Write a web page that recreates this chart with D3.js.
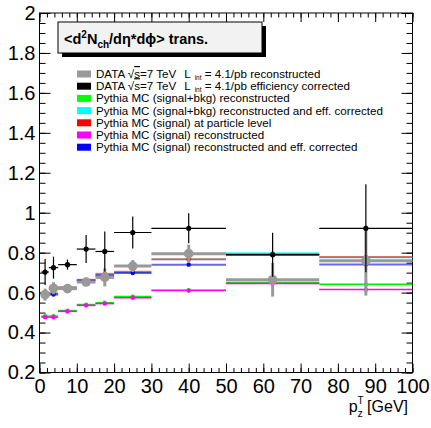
<!DOCTYPE html>
<html>
<head>
<meta charset="utf-8">
<script src="https://cdn.jsdelivr.net/npm/d3@7"></script>
<style>
  html, body { margin: 0; padding: 0; background: #fff; }
  svg { display: block; font-family: "Liberation Sans", Arial, Helvetica, sans-serif; }
</style>
</head>
<body>
<svg id="chart" width="431" height="428"></svg>
<script>
// pT bins (GeV)
const binLow    = [0.5, 2.5, 5, 10, 15, 20, 30, 50, 75];
const binHigh   = [2.5, 5, 10, 15, 20, 30, 50, 75, 100];
const binCenter = [1.5, 3.75, 7.5, 12.5, 17.5, 25, 40, 62.5, 87.5];

// DATA, efficiency corrected
const dataCorrected    = [0.703, 0.725, 0.740, 0.818, 0.806, 0.901, 0.922, 0.790, 0.922];
const dataCorrectedErr = [0.065, 0.055, 0.025, 0.070, 0.100, 0.080, 0.075, 0.110, 0.220];
// DATA, reconstructed
const dataReco    = [0.590, 0.622, 0.620, 0.653, 0.676, 0.733, 0.795, 0.665, 0.760];
const dataRecoErr = [0.030, 0.030, 0.015, 0.020, 0.045, 0.030, 0.045, 0.085, 0.175];
// Pythia MC
const mcSigBkgReco = [0.482, 0.482, 0.510, 0.540, 0.549, 0.580, 0.612, 0.651, 0.641];
const mcSigBkgCorr = [0.592, 0.598, 0.625, 0.663, 0.690, 0.702, 0.766, 0.797, 0.776];
const mcParticle   = [0.590, 0.595, 0.627, 0.664, 0.694, 0.705, 0.767, 0.790, 0.778];
const mcSigReco    = [0.477, 0.477, 0.506, 0.536, 0.545, 0.574, 0.610, 0.646, 0.615];
const mcSigCorr    = [0.587, 0.590, 0.620, 0.660, 0.686, 0.698, 0.740, 0.790, 0.741];

// axis ticks
const xTickValues = [0, 10, 20, 30, 40, 50, 60, 70, 80, 90, 100];
const yTickValues = [0.2, 0.4, 0.6, 0.8, 1, 1.2, 1.4, 1.6, 1.8, 2];
const yTickLabels = ["0.2", "0.4", "0.6", "0.8", "1", "1.2", "1.4", "1.6", "1.8", "2"];

const svg = d3.select("#chart");
const frame = { left: 39.5, right: 412.5, top: 13, bottom: 372.5 };

const x = d3.scaleLinear().domain([0, 100]).range([frame.left, frame.right]);
const y = d3.scaleLinear().domain([0.2, 2]).range([frame.bottom, frame.top]);

// ---------- axes ----------
const xMinor = d3.range(0, 101, 2);
const yMinor = d3.range(0, 37).map(i => +(0.2 + i * 0.05).toFixed(2));

function styleAxis(g) {
  g.select(".domain").remove();
  g.selectAll("line").attr("stroke", "#000").attr("stroke-width", 1);
}

// bottom
svg.append("g").attr("transform", `translate(0,${frame.bottom})`)
  .call(d3.axisBottom(x).tickValues(xMinor).tickSize(-4.5).tickFormat(""))
  .call(styleAxis);
svg.append("g").attr("transform", `translate(0,${frame.bottom})`)
  .call(d3.axisBottom(x).tickValues(xTickValues).tickSize(-9).tickSizeOuter(0).tickPadding(6))
  .call(styleAxis)
  .call(g => g.selectAll("text").attr("font-size", 20).attr("fill", "#000")
    .attr("font-family", "Liberation Sans, Arial, sans-serif"));
// top (mirror)
svg.append("g").attr("transform", `translate(0,${frame.top})`)
  .call(d3.axisTop(x).tickValues(xMinor).tickSize(-4.5).tickFormat(""))
  .call(styleAxis);
svg.append("g").attr("transform", `translate(0,${frame.top})`)
  .call(d3.axisTop(x).tickValues(xTickValues).tickSize(-9).tickFormat(""))
  .call(styleAxis);
// left
svg.append("g").attr("transform", `translate(${frame.left},0)`)
  .call(d3.axisLeft(y).tickValues(yMinor).tickSize(-6).tickFormat(""))
  .call(styleAxis);
svg.append("g").attr("transform", `translate(${frame.left},0)`)
  .call(d3.axisLeft(y).tickValues(yTickValues).tickSize(-11).tickPadding(4)
    .tickFormat((d, i) => yTickLabels[i]))
  .call(styleAxis)
  .call(g => g.selectAll("text").attr("font-size", 20).attr("fill", "#000")
    .attr("font-family", "Liberation Sans, Arial, sans-serif"));
// right (mirror)
svg.append("g").attr("transform", `translate(${frame.right},0)`)
  .call(d3.axisRight(y).tickValues(yMinor).tickSize(-6).tickFormat(""))
  .call(styleAxis);
svg.append("g").attr("transform", `translate(${frame.right},0)`)
  .call(d3.axisRight(y).tickValues(yTickValues).tickSize(-11).tickFormat(""))
  .call(styleAxis);

// plot frame
svg.append("rect")
  .attr("x", frame.left).attr("y", frame.top)
  .attr("width", frame.right - frame.left).attr("height", frame.bottom - frame.top)
  .attr("fill", "none").attr("stroke", "#000").attr("stroke-width", 1);

// x-axis title: p_z^T [GeV]
const xt = svg.append("text").attr("x", 408).attr("y", 412)
  .attr("text-anchor", "end").attr("font-size", 16).attr("fill", "#000");
xt.append("tspan").text("p");
xt.append("tspan").attr("font-size", 10).attr("dy", -8).text("T");
xt.append("tspan").attr("font-size", 10).attr("dx", -6).attr("dy", 13).text("z");
xt.append("tspan").attr("dy", -5).text(" [GeV]");

// ---------- series ----------
const plot = svg.append("g");

function drawMC(values, color, width, opacity) {
  const g = plot.append("g");
  g.selectAll("line.h").data(values).join("line")
    .attr("x1", (d, i) => x(binLow[i])).attr("x2", (d, i) => x(binHigh[i]))
    .attr("y1", d => y(d)).attr("y2", d => y(d))
    .attr("stroke", color).attr("stroke-width", width).attr("stroke-opacity", opacity);
  g.selectAll("circle").data(values).join("circle")
    .attr("cx", (d, i) => x(binCenter[i])).attr("cy", d => y(d)).attr("r", 2.2)
    .attr("fill", color);
}

drawMC(mcSigBkgReco, "#00ee00", 1.6, 1);
drawMC(mcSigBkgCorr, "#00ffff", 1.8, 0.8);
drawMC(mcParticle,   "#ff0000", 2.0, 0.55);
drawMC(mcSigReco,    "#ff00ff", 1.5, 1);
drawMC(mcSigCorr,    "#0000ff", 2.0, 0.6);

function drawData(values, errs, color, lw, r) {
  const g = plot.append("g");
  g.selectAll("line.h").data(values).join("line").attr("class", "h")
    .attr("x1", (d, i) => x(binLow[i])).attr("x2", (d, i) => x(binHigh[i]))
    .attr("y1", d => y(d)).attr("y2", d => y(d))
    .attr("stroke", color).attr("stroke-width", lw);
  g.selectAll("line.v").data(values).join("line").attr("class", "v")
    .attr("x1", (d, i) => x(binCenter[i])).attr("x2", (d, i) => x(binCenter[i]))
    .attr("y1", (d, i) => y(d + errs[i])).attr("y2", (d, i) => y(d - errs[i]))
    .attr("stroke", color).attr("stroke-width", lw);
  g.selectAll("circle").data(values).join("circle")
    .attr("cx", (d, i) => x(binCenter[i])).attr("cy", d => y(d)).attr("r", r)
    .attr("fill", color);
}

drawData(dataReco, dataRecoErr, "#999999", 3, 4.8);
drawData(dataCorrected, dataCorrectedErr, "#000000", 1.2, 2.6);

// ---------- title box ----------
const tb = { x: 58, y: 22, w: 204, h: 31 };
svg.append("rect").attr("x", tb.x + 4).attr("y", tb.y + 4)
  .attr("width", tb.w).attr("height", tb.h).attr("fill", "#000");
svg.append("rect").attr("x", tb.x).attr("y", tb.y)
  .attr("width", tb.w).attr("height", tb.h)
  .attr("fill", "#f2f2f2").attr("stroke", "#000").attr("stroke-width", 1);
const tt = svg.append("text").attr("x", tb.x + 6).attr("y", tb.y + 22)
  .attr("font-size", 14.5).attr("font-weight", "bold").attr("fill", "#000");
tt.append("tspan").text("<d");
tt.append("tspan").attr("font-size", 10).attr("dy", -6).text("2");
tt.append("tspan").attr("dy", 6).text("N");
tt.append("tspan").attr("font-size", 10).attr("dy", 4).text("ch");
tt.append("tspan").attr("dy", -4).text("/d\u03B7*d\u03D5> trans.");

// ---------- legend ----------
const legendItems = [
  { color: "#999999", kind: "data", tail: "reconstructed" },
  { color: "#000000", kind: "data", tail: "efficiency corrected" },
  { color: "#00ff00", text: "Pythia MC (signal+bkg) reconstructed" },
  { color: "#00ffff", text: "Pythia MC (signal+bkg) reconstructed and eff. corrected" },
  { color: "#ff0000", text: "Pythia MC (signal) at particle level" },
  { color: "#ff00ff", text: "Pythia MC (signal) reconstructed" },
  { color: "#0000ff", text: "Pythia MC (signal) reconstructed and eff. corrected" }
];
const leg = svg.append("g").attr("font-size", 11.6).attr("fill", "#000");
legendItems.forEach((it, i) => {
  const cy = 74 + i * 12.2;
  leg.append("rect").attr("x", 77).attr("y", cy - 3.5).attr("width", 14).attr("height", 7)
    .attr("fill", it.color);
  const t = leg.append("text").attr("x", 96).attr("y", cy + 4);
  if (it.kind === "data") {
    t.append("tspan").text("DATA \u221A");
    t.append("tspan").attr("text-decoration", "overline").text("s");
    t.append("tspan").text("=7 TeV");
    t.append("tspan").attr("dx", 8).text("L");
    t.append("tspan").attr("font-size", 6.5).attr("dx", 4).attr("dy", 1.5).text("int");
    t.append("tspan").attr("dy", -1.5).text(" = 4.1/pb " + it.tail);
  } else {
    t.text(it.text);
  }
});
</script>
</body>
</html>
